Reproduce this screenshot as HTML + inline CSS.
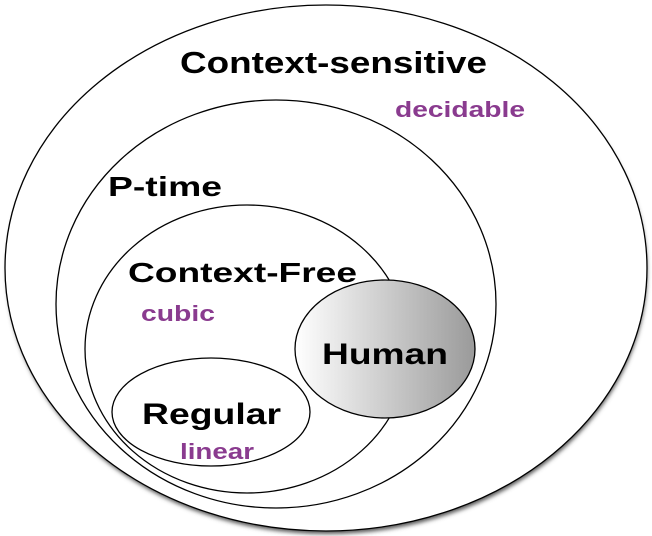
<!DOCTYPE html>
<html><head><style>html,body{margin:0;padding:0;background:#fff;}svg{display:block}</style></head>
<body>
<svg width="652" height="536" viewBox="0 0 652 536" xmlns="http://www.w3.org/2000/svg">
<defs>
<linearGradient id="g" x1="0" y1="0" x2="1" y2="0">
<stop offset="0" stop-color="#ffffff"/><stop offset="1" stop-color="#9a9a9a"/>
</linearGradient>
<filter id="s" x="-10%" y="-10%" width="120%" height="120%"><feGaussianBlur stdDeviation="2"/></filter>
</defs>
<ellipse cx="327" cy="272" rx="320" ry="262" fill="#555" filter="url(#s)"/>
<ellipse cx="326" cy="268" rx="321" ry="263" fill="#fff" stroke="#000" stroke-width="1.3"/>
<ellipse cx="276" cy="304" rx="220" ry="204" fill="none" stroke="#000" stroke-width="1.3"/>
<ellipse cx="247" cy="349" rx="162" ry="144" fill="none" stroke="#000" stroke-width="1.3"/>
<ellipse cx="385" cy="349" rx="90" ry="69" fill="url(#g)" stroke="#000" stroke-width="1.3"/>
<ellipse cx="211" cy="412" rx="99" ry="54" fill="#fff" stroke="#000" stroke-width="1.3"/>
<g font-family="Liberation Sans, sans-serif" font-weight="bold">
<text x="180" y="73" font-size="31" textLength="307" lengthAdjust="spacingAndGlyphs">Context-sensitive</text>
<text x="395" y="117" font-size="22" fill="#8a3b8f" textLength="130" lengthAdjust="spacingAndGlyphs">decidable</text>
<text x="108" y="196" font-size="28" textLength="114" lengthAdjust="spacingAndGlyphs">P-time</text>
<text x="128" y="282" font-size="28" textLength="229" lengthAdjust="spacingAndGlyphs">Context-Free</text>
<text x="141" y="321" font-size="22" fill="#8a3b8f" textLength="74" lengthAdjust="spacingAndGlyphs">cubic</text>
<text x="322" y="364" font-size="30" textLength="126" lengthAdjust="spacingAndGlyphs">Human</text>
<text x="142" y="424" font-size="30" textLength="139" lengthAdjust="spacingAndGlyphs">Regular</text>
<text x="180" y="459" font-size="22" fill="#8a3b8f" textLength="74" lengthAdjust="spacingAndGlyphs">linear</text>
</g>
</svg>
</body></html>
